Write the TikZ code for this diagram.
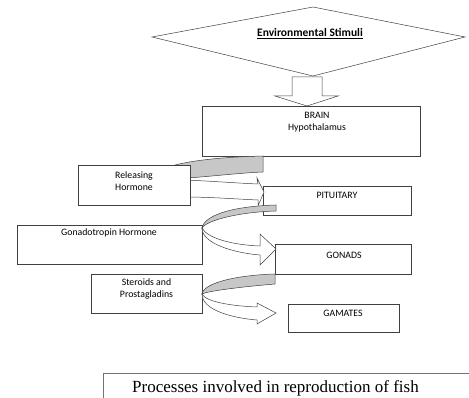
\documentclass[tikz,border=0pt]{standalone}
\usepackage{fontspec}
\setmainfont{Carlito}
\newfontfamily\capfont{Liberation Serif}
\begin{document}
\begin{tikzpicture}[x=1pt,y=-1pt,
  box/.style={draw=black!75, line width=0.6pt, fill=white, rectangle, inner sep=0pt, anchor=north west},
  lbl/.style={font=\fontsize{9.8}{12}\selectfont, align=center, inner sep=0pt},
  band/.style={draw=black!75, line width=0.5pt, fill=black!22},
  front/.style={draw=black!75, line width=0.5pt, fill=white},
]
\useasboundingbox (0,0) rectangle (469,398);
% diamond
\coordinate (dl) at (152,37);
\coordinate (dt) at (313,7);
\coordinate (dr) at (465,37);
\coordinate (db) at (313,76);
\draw[front] (dl) -- (dt) -- (dr) -- (db) -- cycle;
\node[inner sep=0pt, font=\bfseries\fontsize{11.5}{14}\selectfont] (envt) at (310,34) {\underline{Environmental Stimuli}};
% block arrow down
\draw[front] (292,77) -- (322,77) -- (322,96) -- (338,96) -- (307,106) -- (275,96) -- (292,96) -- cycle;
% right boxes
\node[box, minimum width=218pt, minimum height=50pt] (brain) at (202,106) {};
\node[box, minimum width=148pt, minimum height=29pt] (pit) at (263,186) {};
\node[box, minimum width=136pt, minimum height=30pt] (gon) at (275,244) {};
\node[box, minimum width=111pt, minimum height=28pt] (gam) at (288,304) {};
% curved arrow 1 (behind releasing box)
\draw[band] (263,156) .. controls (225,157) and (190,160) .. (168,167) -- (180,185) -- (188,178) .. controls (215,176) and (240,173) .. (263,172) -- cycle;
\draw[front] (185,180) .. controls (210,181) and (235,183) .. (258,184) -- (257,178) -- (264,192) -- (258,206) -- (258,200) .. controls (235,199) and (210,197) .. (185,197) -- cycle;
\node[box, minimum width=112pt, minimum height=40pt] (rel) at (78,165) {};
\node[box, minimum width=185pt, minimum height=39pt] (gth) at (17,225) {};
% curved arrow 2
\draw[band] (276,205) .. controls (240,206) and (205,213) .. (202,228) .. controls (207,220) and (240,212) .. (276,211) -- cycle;
\draw[front] (202,228) .. controls (202,244) and (235,253) .. (260,255) -- (260,265) -- (276,249) -- (260,234) -- (260,246) .. controls (232,245) and (207,238) .. (202,228) -- cycle;
\node[box, minimum width=111pt, minimum height=39pt] (ster) at (91,274) {};
% curved arrow 3
\draw[band] (275,274) .. controls (240,275) and (204,282) .. (202,294) .. controls (208,291) and (240,287) .. (275,284) -- cycle;
\draw[front] (202,294) .. controls (202,310) and (232,318) .. (257,320) -- (257,324) -- (276,313) -- (257,303) -- (257,307) .. controls (232,306) and (206,302) .. (202,294) -- cycle;
% labels
\node[lbl] (brainl) at (317,122) {BRAIN\\Hypothalamus};
\node[lbl] (pitl) at (337,195) {PITUITARY};
\node[lbl] (gonl) at (344,255) {GONADS};
\node[lbl] (gaml) at (343,313) {GAMATES};
\node[lbl] (rell) at (134,181) {Releasing\\Hormone};
\node[lbl] (gthl) at (109,233) {Gonadotropin Hormone};
\node[lbl] (sterl) at (146.5,288.5) {Steroids and\\Prostagladins};
% caption
\draw[draw=black!55, line width=0.8pt] (469,373) -- (103,373) -- (103,398);
\node[anchor=base west, inner sep=0pt, font=\capfont\fontsize{17}{20}\selectfont] (cap) at (132,392) {Processes involved in reproduction of fish};
\end{tikzpicture}
\end{document}
